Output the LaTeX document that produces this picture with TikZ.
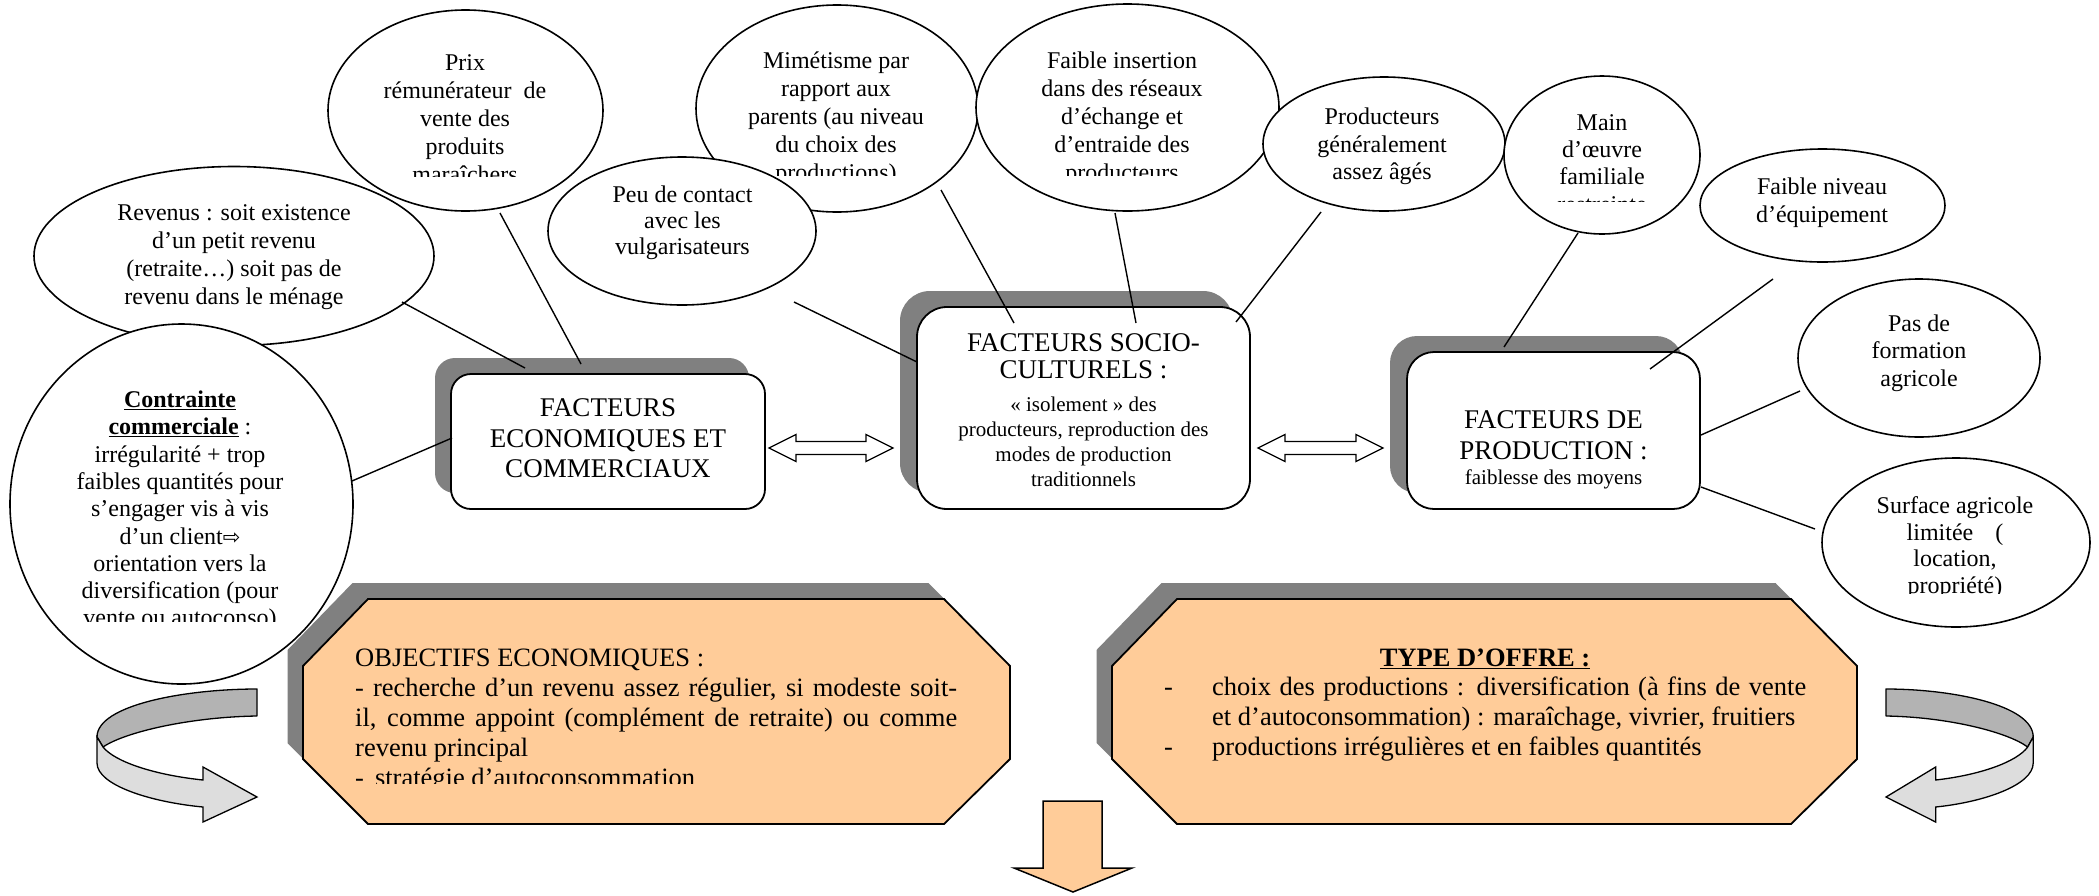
\documentclass[tikz,border=0pt]{standalone}
\usepackage{fontspec}
\setmainfont{Liberation Serif}
\newfontfamily\arrowglyphs{DejaVu Sans}
\usetikzlibrary{shapes.geometric}

\definecolor{peach}{HTML}{FFCC99}
\definecolor{shade}{HTML}{808080}
\definecolor{bandback}{HTML}{B3B3B3}
\definecolor{bandfront}{HTML}{DDDDDD}

% U-turn ribbon arrow, drawn in local units (u = distance from the band's end)
\newcommand\ribbonarrow{%
  \filldraw[fill=bandback, line width=1.3pt, line join=round]
    (0,689) .. controls (72,689) and (160,705) .. (160,737) -- (154,747)
    .. controls (132,732) and (67,717) .. (0,716) -- cycle;
  \filldraw[fill=bandfront, line width=1.3pt, line join=miter]
    (160,737) -- (160,763) .. controls (160,785) and (107,802) .. (54,807)
    -- (54,822) -- (0,797) -- (54,767) -- (54,780)
    .. controls (102,775) and (142,762) .. (154,747) -- cycle;
}

\begin{document}
\begin{tikzpicture}[x=1pt,y=-1pt,
  bubble/.style={ellipse, draw, line width=1.6pt, fill=white, inner sep=0pt, outer sep=0pt},
  btxt/.style={inner sep=0pt, align=center, font=\fontsize{24}{28}\selectfont},
  link/.style={line width=1.4pt},
  shadowbox/.style={fill=shade, draw=none, inner sep=0pt},
  mainbox/.style={fill=white, draw, line width=1.8pt, inner sep=0pt},
  octa/.style={fill=peach, draw, line width=1.8pt, line join=miter},
  octashadow/.style={fill=shade, draw=none},
  twoway/.style={fill=white, draw, line width=1.3pt, line join=miter},
]
\useasboundingbox (0,0) rectangle (2099,895);
\fill[white] (0,0) rectangle (2099,895);

% ---------- bubbles around the economic factors ----------
\node[bubble, minimum width=400pt, minimum height=179pt] (revenus) at (234,256) {};
\node[btxt] (revenustext) at (234,257) {Revenus : soit existence\\d’un petit revenu\\(retraite…) soit pas de\\revenu dans le ménage};

\node[bubble, minimum width=343pt, minimum height=360pt] (contrainte) at (181.5,504) {};
\begin{scope}
  \clip (15,370) rectangle (350,621);
  \node[btxt, font=\fontsize{24}{27.3}\selectfont] (contraintetext) at (180,511)
    {\textbf{\underline{Contrainte}}\\\textbf{\underline{commerciale}} :\\irrégularité + trop\\faibles quantités pour\\s’engager vis à vis\\d’un client{\arrowglyphs\fontsize{21}{21}\selectfont ⇨}\\orientation vers la\\diversification (pour\\vente ou autoconso)};
\end{scope}

\node[bubble, minimum width=275pt, minimum height=201pt] (prix) at (465.5,110.5) {};
\begin{scope}
  \clip (330,20) rectangle (600,176);
  \node[btxt] (prixtext) at (465,119) {Prix\\rémunérateur\hspace{12pt}de\\vente des\\produits\\maraîchers};
\end{scope}

% ---------- bubbles around the socio-cultural factors ----------
\node[bubble, minimum width=282pt, minimum height=207pt] (mimetisme) at (837,108.5) {};
\begin{scope}
  \clip (700,20) rectangle (975,175);
  \node[btxt] (mimetismetext) at (836,118.5) {Mimétisme par\\rapport aux\\parents (au niveau\\du choix des\\productions)};
\end{scope}

\node[bubble, minimum width=268pt, minimum height=148pt] (peu) at (682,231) {};
\node[btxt, font=\fontsize{24}{26}\selectfont] (peutext) at (682.5,223) {Peu de contact\\avec les\\vulgarisateurs};

\node[bubble, minimum width=303pt, minimum height=207pt] (insertion) at (1127.5,107.5) {};
\begin{scope}
  \clip (985,20) rectangle (1275,175);
  \node[btxt] (insertiontext) at (1122,118.5) {Faible insertion\\dans des réseaux\\d’échange et\\d’entraide des\\producteurs};
\end{scope}

\node[bubble, minimum width=242pt, minimum height=134pt] (ages) at (1384,144) {};
\node[btxt, font=\fontsize{24}{27.5}\selectfont] (agestext) at (1382,146.5) {Producteurs\\généralement\\assez âgés};

% ---------- bubbles around the production factors ----------
\node[bubble, minimum width=196pt, minimum height=158pt] (main) at (1602,155) {};
\begin{scope}
  \clip (1510,90) rectangle (1695,201);
  \node[btxt, font=\fontsize{24}{27.3}\selectfont] (maintext) at (1602,163.5) {Main\\d’œuvre\\familiale\\restreinte};
\end{scope}

\node[bubble, minimum width=245pt, minimum height=113pt] (equip) at (1822.5,205.5) {};
\node[btxt] (equiptext) at (1822,202.5) {Faible niveau\\d’équipement};

\node[bubble, minimum width=242pt, minimum height=158pt] (formation) at (1919,358) {};
\node[btxt, font=\fontsize{24}{27.5}\selectfont] (formationtext) at (1919,353) {Pas de\\formation\\agricole};

\node[bubble, minimum width=268pt, minimum height=169pt] (surface) at (1956,542.5) {};
\begin{scope}
  \clip (1830,480) rectangle (2085,593);
  \node[btxt, font=\fontsize{24}{26.7}\selectfont] (surfacetext) at (1955,547.5) {Surface agricole\\limitée\hspace{22pt}(\\location,\\propriété)};
\end{scope}

% ---------- the three factor boxes ----------
\node[shadowbox, rounded corners=20pt, minimum width=314pt, minimum height=135pt] (ecoshadow) at (592,425.5) {};
\node[mainbox, rounded corners=20pt, minimum width=314pt, minimum height=135pt] (eco) at (608,441.5) {};
\node[btxt, font=\fontsize{27}{30.5}\selectfont] (ecotext) at (608,438.5) {FACTEURS\\ECONOMIQUES ET\\COMMERCIAUX};

\node[shadowbox, rounded corners=30pt, minimum width=333pt, minimum height=202pt] (socioshadow) at (1066.5,392) {};
\node[mainbox, rounded corners=30pt, minimum width=333pt, minimum height=202pt] (socio) at (1083.5,408) {};
\node[btxt, font=\fontsize{27}{27}\selectfont] (sociotitle) at (1083.5,356) {FACTEURS SOCIO-\\CULTURELS :};
\node[btxt, font=\fontsize{21}{25}\selectfont] (sociobody) at (1083.5,441.5) {« isolement » des\\producteurs, reproduction des\\modes de production\\traditionnels};

\node[shadowbox, rounded corners=27pt, minimum width=293pt, minimum height=157pt] (prodshadow) at (1536.5,414.5) {};
\node[mainbox, rounded corners=27pt, minimum width=293pt, minimum height=157pt] (prod) at (1553.5,430.5) {};
\node[btxt, font=\fontsize{27}{31}\selectfont] (prodtitle) at (1553.5,435) {FACTEURS DE\\PRODUCTION :};
\node[btxt, font=\fontsize{21}{25}\selectfont] (prodbody) at (1553.5,479.5) {faiblesse des moyens};

% two-way arrows between the boxes
\draw[twoway] (769,448) -- (796,434.5) -- (796,441.5) -- (866,441.5) -- (866,434.5) -- (893,448)
  -- (866,461.5) -- (866,454.5) -- (796,454.5) -- (796,461.5) -- cycle;
\draw[twoway] (1258,448) -- (1285,434.5) -- (1285,441.5) -- (1356,441.5) -- (1356,434.5) -- (1383,448)
  -- (1356,461.5) -- (1356,454.5) -- (1285,454.5) -- (1285,461.5) -- cycle;

% ---------- connectors ----------
\coordinate (revenusend) at (402,302);   \coordinate (ecotopA) at (525,368);
\coordinate (prixend) at (500,213);      \coordinate (ecotopB) at (581,364);
\coordinate (contrainteend) at (352,481);\coordinate (ecoleft) at (452,438);
\coordinate (peuend) at (794,302);       \coordinate (socioleft) at (917,362);
\coordinate (mimetismeend) at (941,190); \coordinate (sociotopA) at (1014,323);
\coordinate (insertionend) at (1115,213);\coordinate (sociotopB) at (1136,323);
\coordinate (agesend) at (1321,212);     \coordinate (sociotopC) at (1236,322);
\coordinate (mainend) at (1578,233);     \coordinate (prodtopA) at (1504,347);
\coordinate (equipend) at (1773,279);    \coordinate (prodtopB) at (1650,369);
\coordinate (formationend) at (1800,391);\coordinate (prodrightA) at (1701,435);
\coordinate (surfaceend) at (1815,529);  \coordinate (prodrightB) at (1701,487);

\draw[link] (revenusend) -- (ecotopA);
\draw[link] (prixend) -- (ecotopB);
\draw[link] (contrainteend) -- (ecoleft);
\draw[link] (peuend) -- (socioleft);
\draw[link] (mimetismeend) -- (sociotopA);
\draw[link] (insertionend) -- (sociotopB);
\draw[link] (agesend) -- (sociotopC);
\draw[link] (mainend) -- (prodtopA);
\draw[link] (equipend) -- (prodtopB);
\draw[link] (formationend) -- (prodrightA);
\draw[link] (surfaceend) -- (prodrightB);

% ---------- objectives and supply octagons ----------
\fill[octashadow, shift={(-15.5,-16)}] (368,599) -- (944,599) -- (1010,666) -- (1010,759) -- (944,824) -- (368,824) -- (303,759) -- (303,666) -- cycle;
\draw[octa] (368,599) -- (944,599) -- (1010,666) -- (1010,759) -- (944,824) -- (368,824) -- (303,759) -- (303,666) -- cycle;
\begin{scope}
  \clip (340,630) rectangle (985,783);
  \node[anchor=north west, inner sep=0pt, text width=602pt, align=justify, font=\fontsize{26.5}{30}\selectfont] (objtext) at (355,648.3)
    {\hyphenpenalty=10000 OBJECTIFS ECONOMIQUES :\\- recherche d’un revenu assez régulier, si modeste soit-\linebreak il, comme appoint (complément de retraite) ou comme\linebreak revenu principal\\-\hspace{11pt}stratégie d’autoconsommation};
\end{scope}

\fill[octashadow, shift={(-15.5,-16)}] (1177,599) -- (1791,599) -- (1857,666) -- (1857,759) -- (1791,824) -- (1177,824) -- (1112,759) -- (1112,666) -- cycle;
\draw[octa] (1177,599) -- (1791,599) -- (1857,666) -- (1857,759) -- (1791,824) -- (1177,824) -- (1112,759) -- (1112,666) -- cycle;
\node[inner sep=0pt, font=\fontsize{26.5}{30}\selectfont\bfseries] (offretitle) at (1485,658.5) {\underline{TYPE D’OFFRE :}};
\node[anchor=north west, inner sep=0pt, text width=642pt, align=justify, font=\fontsize{26.5}{30}\selectfont] (offretext) at (1164,676.6)
  {\parindent=0pt\hyphenpenalty=10000\hangindent=48pt\hangafter=1\makebox[48pt][l]{-}choix des productions : diversification (à fins de vente\linebreak et d’autoconsommation) : maraîchage, vivrier, fruitiers\par
   \hangindent=48pt\hangafter=1\makebox[48pt][l]{-}productions irrégulières et en faibles quantités};

% downward arrow
\draw[fill=peach, line width=1.5pt, line join=miter] (1043,801) -- (1102,801) -- (1102,868) -- (1132,868) -- (1073,892) -- (1014,868) -- (1043,868) -- cycle;

% ---------- U-turn arrows ----------
\begin{scope}[shift={(257,0)}, xscale=-1]
  \ribbonarrow
\end{scope}
\begin{scope}[shift={(1886,0)}, xscale=0.92]
  \ribbonarrow
\end{scope}
\end{tikzpicture}
\end{document}
